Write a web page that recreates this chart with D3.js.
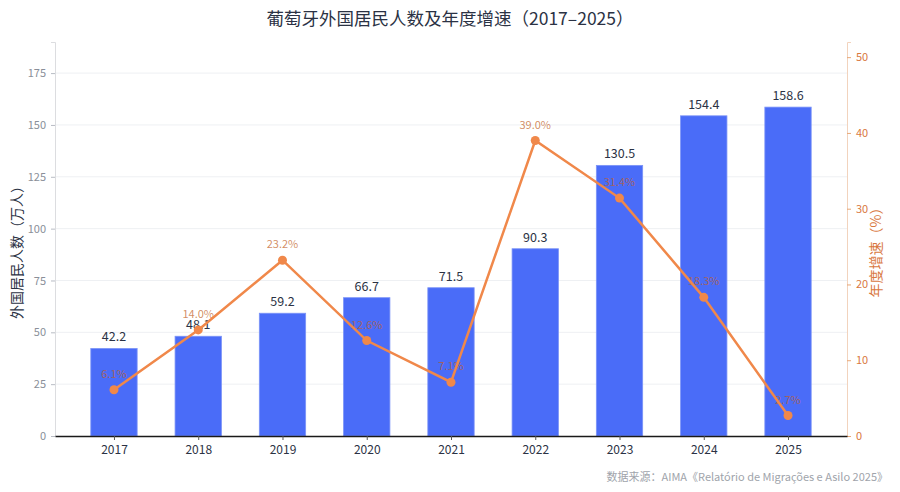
<!DOCTYPE html>
<html>
<head>
<meta charset="utf-8">
<script src="https://cdn.jsdelivr.net/npm/d3@7/dist/d3.min.js"></script>
<style>
  body { margin: 0; background: #fff; }
  svg text { font-family: "Noto Sans CJK SC", "Noto Sans", sans-serif; }
</style>
</head>
<body>
<div id="chart"></div>
<script>
// 数据
var years = ["2017", "2018", "2019", "2020", "2021", "2022", "2023", "2024", "2025"];
var residents = [42.2, 48.1, 59.2, 66.7, 71.5, 90.3, 130.5, 154.4, 158.6];
var growth = [6.1, 14.0, 23.2, 12.6, 7.1, 39.0, 31.4, 18.3, 2.7];
var leftTicks = [0, 25, 50, 75, 100, 125, 150, 175];
var rightTicks = [0, 10, 20, 30, 40, 50];

var W = 900, H = 492;
var plotL = 55, plotR = 847, plotT = 42, plotB = 436;

var svg = d3.select("#chart").append("svg")
  .attr("width", W).attr("height", H);

// 比例尺
var x = d3.scaleLinear().domain([-0.7, years.length - 0.3]).range([plotL, plotR]);
var yL = d3.scaleLinear().domain([0, 190]).range([plotB, plotT]);
var yR = d3.scaleLinear().domain([0, 52]).range([plotB, plotT]);
var barW = (x(1) - x(0)) * 0.55;

// 网格线
svg.append("g").selectAll("line")
  .data(leftTicks.slice(1))
  .enter().append("line")
  .attr("x1", plotL).attr("x2", plotR)
  .attr("y1", d => yL(d)).attr("y2", d => yL(d))
  .style("stroke", "#eef0f3").style("stroke-width", 1);

// 柱子
svg.append("g").selectAll("rect")
  .data(residents)
  .enter().append("rect")
  .attr("x", (d, i) => x(i) - barW / 2)
  .attr("y", d => yL(d))
  .attr("width", barW)
  .attr("height", d => plotB - yL(d))
  .style("fill", "#4a6cf8")
  .style("stroke", "#7b93f7")
  .style("stroke-width", 0.8);

// 柱子数值
svg.append("g").selectAll("text")
  .data(residents)
  .enter().append("text")
  .attr("x", (d, i) => x(i))
  .attr("y", d => yL(d) - 7)
  .attr("text-anchor", "middle")
  .style("font-size", "12.5px")
  .style("fill", "#2b3244")
  .text(d => d.toFixed(1));

// 百分比标签（半透明）
svg.append("g").selectAll("text")
  .data(growth)
  .enter().append("text")
  .attr("x", (d, i) => x(i))
  .attr("y", d => yR(d) - 12)
  .attr("text-anchor", "middle")
  .style("font-size", "11px")
  .style("fill", "#c25f26")
  .style("fill-opacity", 0.72)
  .text(d => d.toFixed(1) + "%");

// 折线
var line = d3.line()
  .x((d, i) => x(i))
  .y(d => yR(d));
svg.append("path")
  .datum(growth)
  .attr("d", line)
  .style("fill", "none")
  .style("stroke", "#f0884a")
  .style("stroke-width", 2.5);
svg.append("g").selectAll("circle")
  .data(growth)
  .enter().append("circle")
  .attr("cx", (d, i) => x(i))
  .attr("cy", d => yR(d))
  .attr("r", 4.5)
  .style("fill", "#f0884a");

// 左轴
var axL = svg.append("g")
  .attr("transform", "translate(" + plotL + ",0)")
  .call(d3.axisLeft(yL).tickValues(leftTicks).tickSize(4).tickPadding(5));
axL.select(".domain").style("stroke", "#dcdde0");
axL.selectAll(".tick line").style("stroke", "#b8bcc4");
axL.selectAll("text").style("fill", "#8a8f99").style("font-size", "11px")
  .style("font-family", "'Noto Sans CJK SC', sans-serif");

// 右轴
var axR = svg.append("g")
  .attr("transform", "translate(" + plotR + ",0)")
  .call(d3.axisRight(yR).tickValues(rightTicks).tickSize(4).tickPadding(5));
axR.select(".domain").style("stroke", "#f2d3bd");
axR.selectAll(".tick line").style("stroke", "#e8a878");
axR.selectAll("text").style("fill", "#d9783f").style("font-size", "11px")
  .style("font-family", "'Noto Sans CJK SC', sans-serif");

// 底轴
var axB = svg.append("g")
  .attr("transform", "translate(0," + plotB + ")")
  .call(d3.axisBottom(x).tickValues(d3.range(years.length))
    .tickFormat(i => years[i]).tickSize(4).tickPadding(5).tickSizeOuter(0));
axB.select(".domain").style("stroke", "#1a1a1a").style("stroke-width", 1.3);
axB.selectAll(".tick line").style("stroke", "#555");
axB.selectAll("text").style("fill", "#2b3244").style("font-size", "12px")
  .style("font-family", "'Noto Sans CJK SC', sans-serif");

// 标题和轴标题
svg.append("text")
  .attr("x", 450).attr("y", 25)
  .attr("text-anchor", "middle")
  .style("font-size", "17.5px").style("fill", "#2b3244")
  .text("葡萄牙外国居民人数及年度增速（2017–2025）");

svg.append("text")
  .attr("transform", "translate(22," + ((plotT + plotB) / 2 + 10) + ") rotate(-90)")
  .attr("text-anchor", "middle")
  .style("font-size", "14px").style("fill", "#2b3244")
  .text("外国居民人数（万人）");

svg.append("text")
  .attr("transform", "translate(881," + ((plotT + plotB) / 2 + 10) + ") rotate(-90)")
  .attr("text-anchor", "middle")
  .style("font-size", "14px").style("fill", "#d9783f")
  .text("年度增速（%）");

svg.append("text")
  .attr("x", 888).attr("y", 481)
  .attr("text-anchor", "end")
  .style("font-size", "11px").style("fill", "#a0a4ab")
  .text("数据来源：AIMA《Relatório de Migrações e Asilo 2025》");
</script>
</body>
</html>
